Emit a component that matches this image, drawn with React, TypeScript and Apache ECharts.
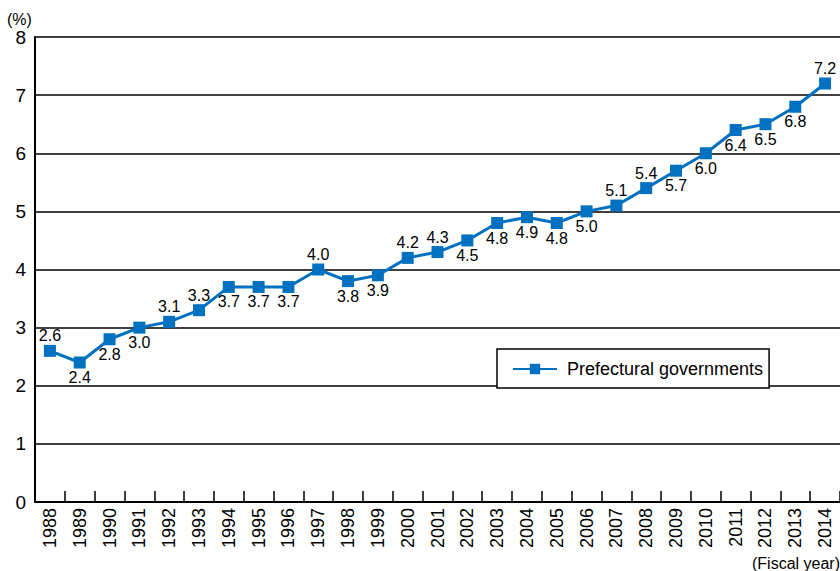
import React, { useEffect, useRef } from "react";
import * as echarts from "echarts";

const years = ["1988","1989","1990","1991","1992","1993","1994","1995","1996","1997","1998","1999","2000","2001","2002","2003","2004","2005","2006","2007","2008","2009","2010","2011","2012","2013","2014"];
const values = [2.6,2.4,2.8,3.0,3.1,3.3,3.7,3.7,3.7,4.0,3.8,3.9,4.2,4.3,4.5,4.8,4.9,4.8,5.0,5.1,5.4,5.7,6.0,6.4,6.5,6.8,7.2];
const labelPos = ["top","bottom","bottom","bottom","top","top","bottom","bottom","bottom","top","bottom","bottom","top","top","bottom","bottom","bottom","bottom","bottom","top","top","bottom","bottom","bottom","bottom","bottom","top"];
const seriesName = "Prefectural governments";
const yTicks = [0, 8, 1];

const FONT = "'Liberation Sans', Arial, sans-serif";
const BLUE = "#0070C0";

export default function App() {
  const ref = useRef<HTMLDivElement>(null);
  useEffect(() => {
    document.body.style.margin = "0";
    const chart = echarts.init(ref.current!, null, { renderer: "svg" });
    chart.setOption({
      animation: false,
      textStyle: { fontFamily: FONT },
      grid: { left: 35, top: 37, width: 810, height: 465, containLabel: false },
      legend: {
        left: 497,
        top: 349,
        data: [seriesName],
        backgroundColor: "#fff",
        borderColor: "#000",
        borderWidth: 1.5,
        padding: [11, 6, 10, 15],
        itemWidth: 44,
        itemHeight: 13,
        itemGap: 10,
        textStyle: { fontSize: 18, color: "#000", fontFamily: FONT, padding: [0, 0, 0, 5] },
      },
      xAxis: {
        type: "category",
        data: years,
        boundaryGap: true,
        axisLine: { lineStyle: { color: "#000", width: 2 } },
        axisTick: { show: true, inside: true, length: 11, interval: 0, lineStyle: { color: "#000", width: 1.5 } },
        axisLabel: { rotate: 90, interval: 0, margin: 6, fontSize: 18, color: "#000", fontFamily: FONT },
      },
      yAxis: {
        type: "value",
        min: yTicks[0],
        max: yTicks[1],
        interval: yTicks[2],
        axisLine: { show: true, lineStyle: { color: "#000", width: 2 } },
        axisTick: { show: false },
        axisLabel: { margin: 9, fontSize: 19, color: "#000", fontFamily: FONT },
        splitLine: { show: true, lineStyle: { color: "#000", width: 1.5 } },
      },
      graphic: [
        { type: "text", left: 7, top: 11, style: { text: "(%)", fontSize: 16, fill: "#000", fontFamily: FONT } },
        { type: "text", right: 0, top: 555, style: { text: "(Fiscal year)", fontSize: 16, fill: "#000", fontFamily: FONT } },
      ],
      series: [
        {
          name: seriesName,
          type: "line",
          symbol: "rect",
          symbolSize: 12,
          itemStyle: { color: BLUE },
          lineStyle: { color: BLUE, width: 3 },
          label: { show: true, fontSize: 16, color: "#000", distance: 1, fontFamily: FONT },
          data: values.map((v, i) => ({
            value: v,
            label: { position: labelPos[i], formatter: v.toFixed(1) },
          })),
        },
      ],
    });
    return () => chart.dispose();
  }, []);
  return <div ref={ref} style={{ width: 840, height: 571 }} />;
}
